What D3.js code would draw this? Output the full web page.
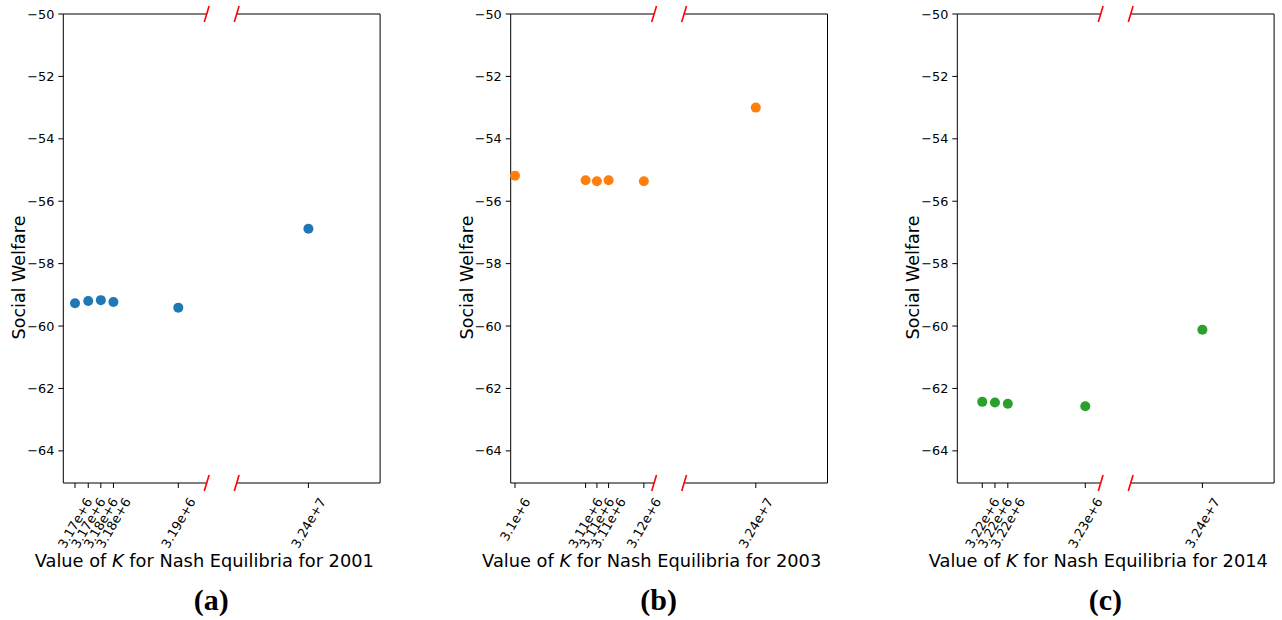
<!DOCTYPE html>
<html>
<head>
<meta charset="utf-8">
<script src="https://cdn.jsdelivr.net/npm/d3@7"></script>
<style>
  body { margin: 0; background: #fff; }
  text { font-family: "DejaVu Sans", sans-serif; }
</style>
</head>
<body>
<div id="chart"></div>
<script>
// values
const years = [2001, 2003, 2014];
const captions = ["(a)", "(b)", "(c)"];
const colors = ["#1f77b4", "#ff7f0e", "#2ca02c"];

const k2001 = [3172500, 3174600, 3176600, 3178600, 3188900, 32400000];
const welfare2001 = [-59.27, -59.2, -59.17, -59.23, -59.41, -56.88];
const k2003 = [3102000, 3109670, 3110900, 3112170, 3116000, 32400000];
const welfare2003 = [-55.18, -55.33, -55.36, -55.33, -55.36, -53.0];
const k2014 = [3221000, 3221615, 3222240, 3226000, 32400000];
const welfare2014 = [-62.43, -62.45, -62.49, -62.57, -60.12];

// x limits of the two halves of each broken axis
const leftLims = [
  [3170640, 3193410],
  [3101533, 3117114],
  [3219788, 3226748],
];
const rightLim = [32380000, 32420000];
const splitAt = 10000000;

const yLim = [-65.03, -50];
const yTicks = [-64, -62, -60, -58, -56, -54, -52, -50];

const kValues = [k2001, k2003, k2014];
const welfareValues = [welfare2001, welfare2003, welfare2014];

const width = 1282;
const height = 620;
const plotTop = 14;
const plotBottom = 483;
const panelLefts = [63.3, 510.7, 957.3];
const halfWidth = 143.4;
const gap = 30;

const svg = d3
  .select("#chart")
  .append("svg")
  .attr("width", width)
  .attr("height", height)
  .attr("viewBox", [0, 0, width, height]);

svg.append("rect").attr("width", width).attr("height", height).attr("fill", "#fff");

const y = d3.scaleLinear().domain(yLim).range([plotBottom, plotTop]);
const fmtK = d3.format(".3");
const fmtY = d3.format("d");

years.forEach(function (year, i) {
  const L = panelLefts[i];
  const xl = d3.scaleLinear().domain(leftLims[i]).range([L, L + halfWidth]);
  const xr = d3
    .scaleLinear()
    .domain(rightLim)
    .range([L + halfWidth + gap, L + 2 * halfWidth + gap]);
  const xOf = (k) => (k < splitAt ? xl(k) : xr(k));
  const R = L + 2 * halfWidth + gap;

  const g = svg.append("g");

  // frame, with the break in top and bottom spines
  const lines = [
    [L, plotTop, L, plotBottom],
    [R, plotTop, R, plotBottom],
    [L, plotTop, L + halfWidth, plotTop],
    [L + halfWidth + gap, plotTop, R, plotTop],
    [L, plotBottom, L + halfWidth, plotBottom],
    [L + halfWidth + gap, plotBottom, R, plotBottom],
  ];
  lines.forEach(function (l) {
    g.append("line")
      .attr("x1", l[0])
      .attr("y1", l[1])
      .attr("x2", l[2])
      .attr("y2", l[3])
      .attr("stroke", "#000")
      .attr("stroke-width", 1);
  });

  // red break marks
  [L + halfWidth, L + halfWidth + gap].forEach(function (bx) {
    [plotTop, plotBottom].forEach(function (by) {
      g.append("line")
        .attr("x1", bx - 2.4)
        .attr("y1", by + 8)
        .attr("x2", bx + 2.4)
        .attr("y2", by - 8)
        .attr("stroke", "#ff0000")
        .attr("stroke-width", 1.6);
    });
  });

  // y axis
  yTicks.forEach(function (t) {
    g.append("line")
      .attr("x1", L - 5)
      .attr("x2", L)
      .attr("y1", y(t))
      .attr("y2", y(t))
      .attr("stroke", "#000");
    g.append("text")
      .attr("x", L - 9)
      .attr("y", y(t))
      .attr("dy", "0.36em")
      .attr("text-anchor", "end")
      .attr("font-size", 12.8)
      .text(fmtY(t));
  });

  // x ticks at each K value
  kValues[i].forEach(function (k) {
    const tx = xOf(k);
    g.append("line")
      .attr("x1", tx)
      .attr("x2", tx)
      .attr("y1", plotBottom)
      .attr("y2", plotBottom + 5)
      .attr("stroke", "#000");
    const lab = g
      .append("text")
      .attr("text-anchor", "end")
      .attr("dy", "0.36em")
      .attr("font-size", 12.8)
      .text(fmtK(k));
    const len = lab.node().getComputedTextLength();
    lab.attr("transform", `translate(${tx + len * 0.25},${plotBottom + 16}) rotate(-60)`);
  });

  // points
  g.selectAll("circle")
    .data(kValues[i].map((k, j) => ({ k: k, w: welfareValues[i][j] })))
    .join("circle")
    .attr("cx", (d) => xOf(d.k))
    .attr("cy", (d) => y(d.w))
    .attr("r", 5)
    .attr("fill", colors[i]);

  // labels
  g.append("text")
    .attr("transform", `translate(${L - 38},277.5) rotate(-90)`)
    .attr("text-anchor", "middle")
    .attr("font-size", 17.5)
    .text("Social Welfare");

  const xlab = g
    .append("text")
    .attr("x", L + 141)
    .attr("y", 567)
    .attr("text-anchor", "middle")
    .attr("font-size", 17.8);
  xlab.append("tspan").text("Value of ");
  xlab.append("tspan").attr("font-style", "italic").text("K");
  xlab.append("tspan").text(" for Nash Equilibria for " + year);

  g.append("text")
    .attr("x", L + 148)
    .attr("y", 610)
    .attr("text-anchor", "middle")
    .attr("font-size", 30)
    .attr("font-weight", "bold")
    .style("font-family", '"Liberation Serif", "Times New Roman", serif')
    .text(captions[i]);
});
</script>
</body>
</html>
